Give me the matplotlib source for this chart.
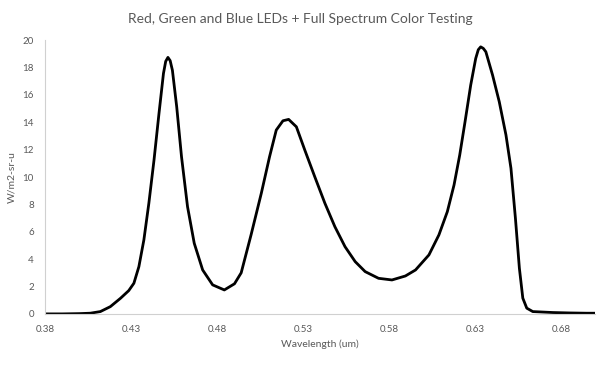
import matplotlib.pyplot as plt

# values
wavelength = [0.3800, 0.3900, 0.4000, 0.4063, 0.4122, 0.4180, 0.4239, 0.4287, 0.4317,
              0.4346, 0.4375, 0.4404, 0.4434, 0.4463, 0.4489, 0.4502, 0.4515, 0.4528,
              0.4541, 0.4566, 0.4594, 0.4629, 0.4668, 0.4717, 0.4775, 0.4843, 0.4902,
              0.4941, 0.4999, 0.5058, 0.5106, 0.5145, 0.5184, 0.5217, 0.5262, 0.5311,
              0.5369, 0.5428, 0.5486, 0.5545, 0.5604, 0.5662, 0.5740, 0.5818, 0.5896,
              0.5955, 0.6033, 0.6091, 0.6140, 0.6179, 0.6212, 0.6243, 0.6276, 0.6305,
              0.6320, 0.6334, 0.6349, 0.6364, 0.6403, 0.6442, 0.6481, 0.6510, 0.6536,
              0.6559, 0.6579, 0.6602, 0.6637, 0.6754, 0.6850, 0.6950, 0.7000]
radiance = [0.0, 0.0, 0.02, 0.05, 0.17, 0.53, 1.14, 1.70, 2.24,
            3.45, 5.40, 8.08, 11.24, 14.65, 17.57, 18.45, 18.74, 18.5,
            17.8, 15.13, 11.48, 7.83, 5.16, 3.21, 2.12, 1.75, 2.2,
            3.0, 5.8, 8.81, 11.48, 13.43, 14.11, 14.21, 13.67, 11.97,
            10.02, 8.08, 6.37, 4.91, 3.82, 3.09, 2.6, 2.48, 2.77,
            3.21, 4.31, 5.77, 7.47, 9.42, 11.6, 14.04, 16.72, 18.66,
            19.3, 19.51, 19.4, 19.15, 17.45, 15.5, 13.07, 10.64, 6.99,
            3.34, 1.15, 0.42, 0.17, 0.1, 0.07, 0.05, 0.05]

x_ticks = [0.38, 0.43, 0.48, 0.53, 0.58, 0.63, 0.68]
y_ticks = list(range(0, 21, 2))

plt.rcParams["font.family"] = ["Lato", "DejaVu Sans"]

fig = plt.figure(figsize=(6, 3.65), dpi=100)
ax = fig.add_axes([0.075, 0.14, 0.917, 0.75])
ax.plot(wavelength, radiance, color="black", linewidth=2.0,
        solid_joinstyle="round", solid_capstyle="round")

ax.set_xlim(0.38, 0.70)
ax.set_ylim(0, 20)
ax.set_xticks(x_ticks)
ax.set_xticklabels([f"{t:.2f}" for t in x_ticks])
ax.set_yticks(y_ticks)

for side in ("top", "right"):
    ax.spines[side].set_visible(False)
for side in ("left", "bottom"):
    ax.spines[side].set_color("#d0d0d0")
    ax.spines[side].set_linewidth(0.8)
ax.tick_params(length=0, labelsize=7, colors="#595959", pad=8)

ax.set_xlabel("Wavelength (um)", fontsize=7.5, color="#595959", labelpad=4)
ax.set_ylabel("W/m2-sr-u", fontsize=7.5, color="#595959", labelpad=4)
fig.suptitle("Red, Green and Blue LEDs + Full Spectrum Color Testing",
             fontsize=10, color="#595959", y=0.965)

fig.savefig("out.png", dpi=100)
